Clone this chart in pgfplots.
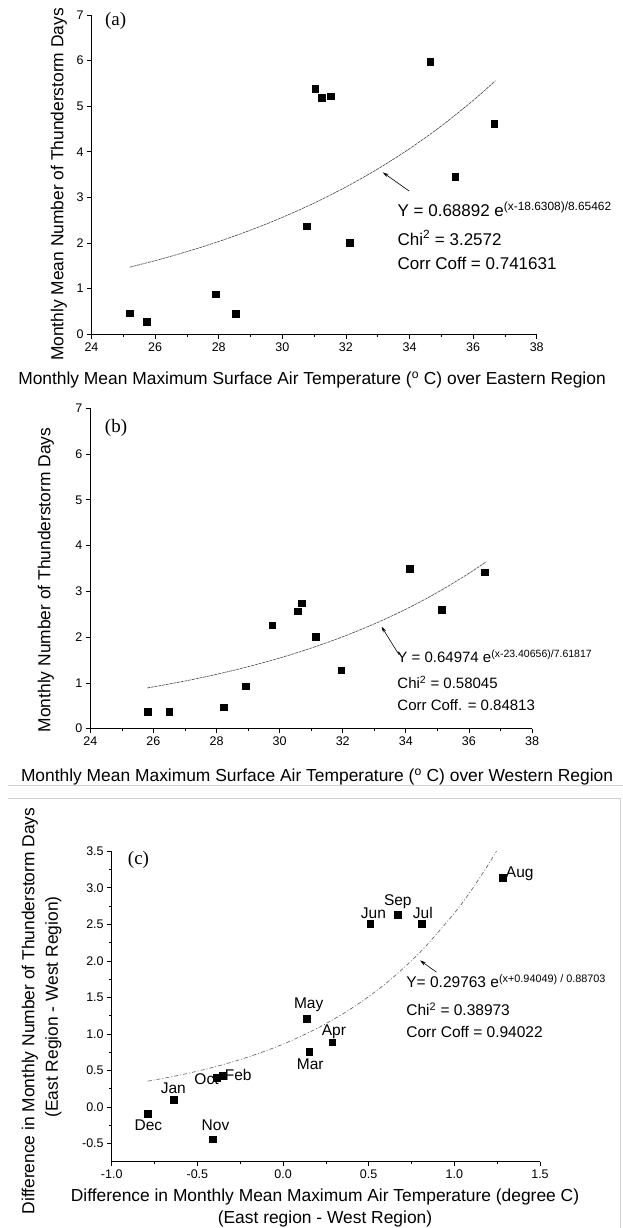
\documentclass[border=0pt]{standalone}
\usepackage{fontspec}
\setmainfont{Liberation Sans}
\newfontfamily\tnr{Liberation Serif}
\usepackage{pgfplots}
\pgfplotsset{compat=1.18}
\usetikzlibrary{arrows.meta}

\newcommand{\lab}{\fontsize{17.4}{20}\selectfont}
\newcommand{\panel}{\tnr\fontsize{19}{22}\selectfont}

\tikzset{arr/.style={-{Stealth[length=6pt,width=3.5pt]}, line width=0.6pt, black}}

\pgfplotsset{
  tsplot/.style={
    scale only axis,
    axis lines*=left,
    axis line style={line width=0.8pt},
    tick align=outside,
    major tick length=4.5pt,
    minor tick length=2.5pt,
    every tick/.style={black, line width=0.7pt},
    tick label style={font=\fontsize{12.5}{14}\selectfont},
    /pgf/number format/assume math mode=true,
    anchor=south west,
    clip=false,
  },
  pts/.style={only marks, mark=square*, mark size=3.3pt, black},
  fit/.style={no marks, line width=0.6pt, gray!55!black, dash pattern=on 3pt off 0.8pt, smooth},
}

\begin{document}
\begin{tikzpicture}
\path[use as bounding box] (0pt,0pt) rectangle (623pt,1228pt);

% ---------- (a) eastern region
\begin{axis}[tsplot, at={(91.5pt,893.7pt)}, width=445.2pt, height=319.3pt,
  xmin=24, xmax=38, ymin=0, ymax=7,
  xtick={24,26,28,30,32,34,36,38}, ytick={0,1,2,3,4,5,6,7},
  minor x tick num=1]
\addplot[pts] coordinates {
  (25.20,0.46) (25.73,0.27) (27.90,0.875) (28.53,0.445)
  (30.76,2.37) (31.04,5.38) (31.24,5.19) (31.52,5.22)
  (32.11,2.01) (34.65,5.98) (35.44,3.46) (36.66,4.62)
};
\addplot[fit] coordinates {
  (25.2,1.4717) (26,1.6142) (27,1.8119) (28,2.0338) (29,2.2830)
  (30,2.5626) (31,2.8765) (32,3.2288) (33,3.6243) (34,4.0682)
  (35,4.5665) (36,5.1258) (36.7,5.5577)
};
\draw[arr] (axis cs:33.99,3.14) -- (axis cs:33.16,3.55);
\node[anchor=base west, font=\fontsize{17}{20}\selectfont, inner sep=0pt] at (axis cs:33.62,2.586)
  {Y = 0.68892 e\textsuperscript{(x-18.6308)/8.65462}};
\node[anchor=base west, font=\fontsize{17}{20}\selectfont, inner sep=0pt] at (axis cs:33.62,1.956)
  {Chi\textsuperscript{2} = 3.2572};
\node[anchor=base west, font=\fontsize{17}{20}\selectfont, inner sep=0pt] at (axis cs:33.62,1.416)
  {Corr Coff = 0.741631};
\end{axis}

% ---------- (b) western region
\begin{axis}[tsplot, at={(90.3pt,499.3pt)}, width=441.7pt, height=320.4pt,
  xmin=24, xmax=38, ymin=0, ymax=7,
  xtick={24,26,28,30,32,34,36,38}, ytick={0,1,2,3,4,5,6,7},
  minor x tick num=1]
\addplot[pts] coordinates {
  (25.82,0.37) (26.50,0.37) (28.23,0.47) (28.92,0.925)
  (29.76,2.265) (30.57,2.57) (30.70,2.74) (31.14,2.01)
  (31.95,1.28) (34.12,3.49) (35.13,2.60) (36.50,3.42)
};
\addplot[fit] coordinates {
  (25.8,0.8896) (27,1.0413) (28,1.1874) (29,1.3540) (30,1.5439)
  (31,1.7605) (32,2.0074) (33,2.2890) (34,2.6100) (35,2.9761)
  (36,3.3935) (36.55,3.6476)
};
\draw[arr] (axis cs:33.79,1.61) -- (axis cs:33.23,2.23);
\node[anchor=base west, font=\fontsize{15}{18}\selectfont, inner sep=0pt] at (axis cs:33.73,1.452)
  {Y = 0.64974 e\textsuperscript{(x-23.40656)/7.61817}};
\node[anchor=base west, font=\fontsize{15}{18}\selectfont, inner sep=0pt] at (axis cs:33.73,0.872)
  {Chi\textsuperscript{2} = 0.58045};
\node[anchor=base west, font=\fontsize{15}{18}\selectfont, inner sep=0pt] at (axis cs:33.73,0.402)
  {Corr Coff. = 0.84813};
\end{axis}

% ---------- (c) east minus west
\begin{axis}[tsplot, at={(111.7pt,66.3pt)}, width=428.3pt, height=310.4pt,
  xmin=-1, xmax=1.5, ymin=-0.75, ymax=3.5,
  xtick={-1,-0.5,0,0.5,1,1.5}, ytick={-0.5,0,0.5,1,1.5,2,2.5,3,3.5},
  minor tick num=1,
  /pgf/number format/.cd, fixed, fixed zerofill, precision=1]
\addplot[pts] coordinates {
  (-0.790,-0.091) (-0.638,0.10) (-0.387,0.397) (-0.353,0.43)
  (-0.412,-0.443) (0.138,1.21) (0.152,0.758) (0.286,0.886)
  (0.509,2.507) (0.670,2.63) (0.809,2.507) (1.283,3.137)
};
\addplot[no marks, line width=0.6pt, gray!70!black, dash pattern=on 4pt off 2pt on 1pt off 2pt, smooth] coordinates {
  (-0.79,0.35266) (-0.6,0.43690) (-0.4,0.54739) (-0.2,0.68584)
  (0,0.85930) (0.2,1.07663) (0.4,1.34891) (0.6,1.69010)
  (0.8,2.11755) (1.0,2.65315) (1.1,2.96971) (1.2,3.32411) (1.246,3.50106)
};
\begin{scope}[every node/.style={font=\fontsize{15.5}{18}\selectfont, inner sep=0pt}]
\node[anchor=west] at (axis cs:1.30,3.19) {Aug};
\node at (axis cs:0.670,2.808) {Sep};
\node at (axis cs:0.528,2.658) {Jun};
\node at (axis cs:0.816,2.653) {Jul};
\node at (axis cs:0.150,1.402) {May};
\node at (axis cs:0.297,1.024) {Apr};
\node at (axis cs:0.159,0.588) {Mar};
\node[anchor=east] at (axis cs:-0.375,0.374) {Oct};
\node[anchor=west] at (axis cs:-0.341,0.443) {Feb};
\node at (axis cs:-0.640,0.26) {Jan};
\node at (axis cs:-0.786,-0.256) {Dec};
\node at (axis cs:-0.394,-0.256) {Nov};
\end{scope}
\draw[arr] (axis cs:0.896,1.845) -- (axis cs:0.800,2.005);
\node[anchor=base west, font=\fontsize{15.5}{18}\selectfont, inner sep=0pt] at (axis cs:0.719,1.632)
  {Y= 0.29763 e\textsuperscript{(x+0.94049) / 0.88703}};
\node[anchor=base west, font=\fontsize{15.5}{18}\selectfont, inner sep=0pt] at (axis cs:0.719,1.253)
  {Chi\textsuperscript{2} = 0.38973};
\node[anchor=base west, font=\fontsize{15.5}{18}\selectfont, inner sep=0pt] at (axis cs:0.719,0.956)
  {Corr Coff = 0.94022};
\end{axis}

% ---------- labels and frame
\node[font=\lab] at (312pt,848pt) {Monthly Mean Maximum Surface Air Temperature (\textsuperscript{o} C) over Eastern Region};
\node[font=\lab, rotate=90] at (59pt,1043.5pt) {Monthly Mean Number of Thunderstorm Days};
\node[font=\panel] at (115.6pt,1207.3pt) {(a)};

\node[font=\lab] at (317pt,450.6pt) {Monthly Mean Maximum Surface Air Temperature (\textsuperscript{o} C) over Western Region};
\node[font=\lab, rotate=90] at (46pt,648pt) {Monthly Number of Thunderstorm Days};
\node[font=\panel] at (116pt,799.7pt) {(b)};

\draw[gray!35, line width=0.8pt] (8pt,443pt) -- (623pt,443pt);
\draw[gray!35, line width=0.8pt] (8pt,430pt) -- (620pt,430pt) -- (620pt,0pt);
\node[font=\lab, rotate=90] at (30pt,217pt) {Difference in Monthly Number of Thunderstorm Days};
\node[font=\lab, rotate=90] at (53.4pt,221pt) {(East Region - West Region)};
\node[font=\lab] at (325pt,31.3pt) {Difference in Monthly Mean Maximum Air Temperature (degree C)};
\node[font=\lab] at (325pt,9pt) {(East region - West Region)};
\node[font=\panel] at (138.5pt,368pt) {(c)};
\end{tikzpicture}
\end{document}
